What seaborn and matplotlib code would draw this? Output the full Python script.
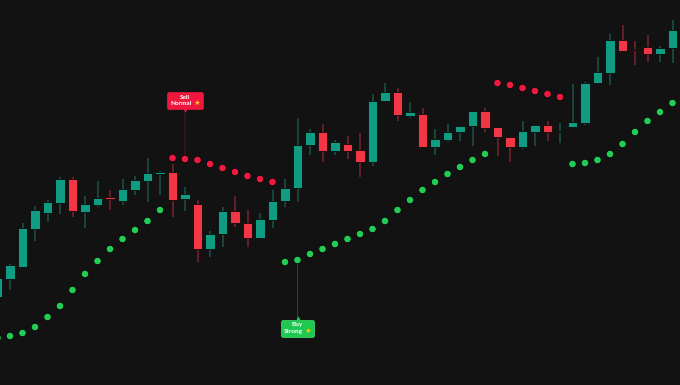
import numpy as np
import pandas as pd
import matplotlib
matplotlib.use("Agg")
import matplotlib.pyplot as plt
import seaborn as sns
from matplotlib.offsetbox import TextArea, VPacker, HPacker, AnnotationBbox
from matplotlib.transforms import offset_copy

# ---------------- data (price units) ----------------
opens = [88, 106, 118, 156, 172, 182, 206, 173, 180, 187, 184, 195, 204, 211, 213, 186, 181, 136, 151, 174,
         162, 147, 165, 184, 197, 240, 253, 234, 241, 235, 223, 284, 293, 269, 271, 238, 245, 253, 259, 274,
         258, 248, 238, 253, 260, 253, 258, 262, 302, 312, 345, 335.5, 338, 331, 337]
highs = [109, 121, 162, 179, 185, 208, 208, 189, 204, 195, 206, 209, 227, 214, 221, 198, 185, 154, 178, 189,
         175, 172, 195, 206, 267, 256, 261, 245, 249, 252, 291, 302, 297, 283, 277, 256, 261, 259, 274, 277,
         258, 248, 264, 260, 264, 262, 301, 303, 328, 351, 360, 344, 350, 339, 365]
lows = [85, 95, 118, 144, 163, 171, 168, 157, 178, 175, 180, 190, 183, 190, 168, 174, 123, 128, 138, 158,
        138, 146, 157, 178, 183, 230, 223, 230, 226, 208, 219, 284, 264, 267, 238, 230, 243, 244, 239, 253,
        229, 223, 236, 239, 244, 242, 258, 260, 301, 300, 334, 320, 323, 323, 322]
closes = [107, 120, 157, 175, 183, 206, 174, 181, 187, 186.5, 196, 205, 212, 213, 185, 191, 136, 151, 174, 162,
          147, 166, 184, 197, 240, 253, 234, 243, 234, 223, 284, 293, 270, 273, 238, 246, 253, 259, 274, 257,
          248, 238, 254, 260, 253, 253.5, 263, 302, 313, 345, 334, 335, 331, 337, 355]

sar_values = [47, 49, 52, 58, 68, 79, 95, 111, 124, 136, 146, 155, 164, 175,
              227, 226, 225, 221, 217, 213, 209, 206, 203,
              123, 125, 131, 136, 141, 146, 151, 156, 164, 175, 185, 195, 203, 211, 218, 225, 231,
              302, 300, 297, 294, 291, 288,
              221, 222, 225, 231, 241, 253, 264, 273, 282]
sar_side = (["below"] * 14 + ["above"] * 9 + ["below"] * 17 + ["above"] * 6 + ["below"] * 9)

signal_index = [15, 24]
signal_text = [("Sell", "Normal"), ("Buy", "Strong")]
signal_kind = ["sell", "buy"]

# ---------------- styling ----------------
BG = "#121212"
GREEN = "#0f9c82"
RED = "#f23645"
GREEN_WICK = "#1b5448"
RED_WICK = "#7c2430"
DOT_GREEN = "#22cc55"
DOT_RED = "#f01a40"
LBL_RED = "#f0173f"
LBL_GREEN = "#1fc850"

sns.set_theme(style="dark", rc={"axes.facecolor": BG, "figure.facecolor": BG})
plt.rcParams["font.family"] = ["Lato", "DejaVu Sans"]

fig = plt.figure(figsize=(6.8, 3.85), dpi=100)
ax = fig.add_axes([0, 0, 1, 1])
ax.set_facecolor(BG)

n = len(opens)
idx = np.arange(n)
o = np.array(opens, float)
c = np.array(closes, float)
h = np.array(highs, float)
l = np.array(lows, float)
up = c >= o

# wicks
ax.vlines(idx[up], l[up], h[up], colors=GREEN_WICK, lw=1.1, zorder=1)
ax.vlines(idx[~up], l[~up], h[~up], colors=RED_WICK, lw=1.1, zorder=1)

# bodies
body_bottom = np.minimum(o, c)
body_h = np.maximum(np.abs(c - o), 1.3)
ax.bar(idx, body_h, bottom=body_bottom, width=0.78,
       color=np.where(up, GREEN, RED), edgecolor="#0b0b0b", linewidth=0.6, zorder=2)

# SAR dots via seaborn
sar_df = pd.DataFrame({"idx": idx, "sar": sar_values, "side": sar_side})
sns.scatterplot(data=sar_df, x="idx", y="sar", hue="side",
                palette={"below": DOT_GREEN, "above": DOT_RED},
                s=30, edgecolor="#0b0b0b", linewidth=0.7, legend=False, ax=ax, zorder=3)

# signal labels
for k, (si, (t1, t2), kind) in enumerate(zip(signal_index, signal_text, signal_kind)):
    y0 = sar_values[si]
    if kind == "sell":
        fc, ec, dy, line_c, tri, tri_dy = LBL_RED, LBL_RED, 42, "#5e1a24", "v", 35.5
    else:
        fc, ec, dy, line_c, tri, tri_dy = LBL_GREEN, "#45e070", -49, "#1d5a33", "^", -41.5
    tp = dict(color="white", fontsize=4.6, fontweight="bold")
    row2 = HPacker(children=[TextArea(t2, textprops=tp),
                             TextArea("★", textprops=dict(color="#f5c518", fontsize=5.4,
                                                          family="DejaVu Sans"))],
                   align="baseline", pad=0, sep=1.2)
    box = VPacker(children=[TextArea(t1, textprops=tp), row2], align="center", pad=0, sep=0.4)
    ab = AnnotationBbox(box, (si, y0), xybox=(0, dy), xycoords="data", boxcoords="offset points",
                        frameon=True, pad=0.4, fontsize=5,
                        bboxprops=dict(boxstyle="round,pad=0.4,rounding_size=0.3", fc=fc, ec=ec, lw=0.5),
                        arrowprops=dict(arrowstyle="-", color=line_c, lw=0.7, linestyle=(0, (1, 1)),
                                        shrinkA=0, shrinkB=3),
                        zorder=5)
    ax.add_artist(ab)
    tr = offset_copy(ax.transData, fig=fig, x=0, y=tri_dy, units="points")
    ax.plot([si], [y0], marker=tri, color=fc, markersize=3.4, markeredgewidth=0, transform=tr, zorder=6)

ax.set_xlim(0.2, 54.6)
ax.set_ylim(0, 385)
ax.axis("off")

fig.savefig("out.png", dpi=100, facecolor=BG)
